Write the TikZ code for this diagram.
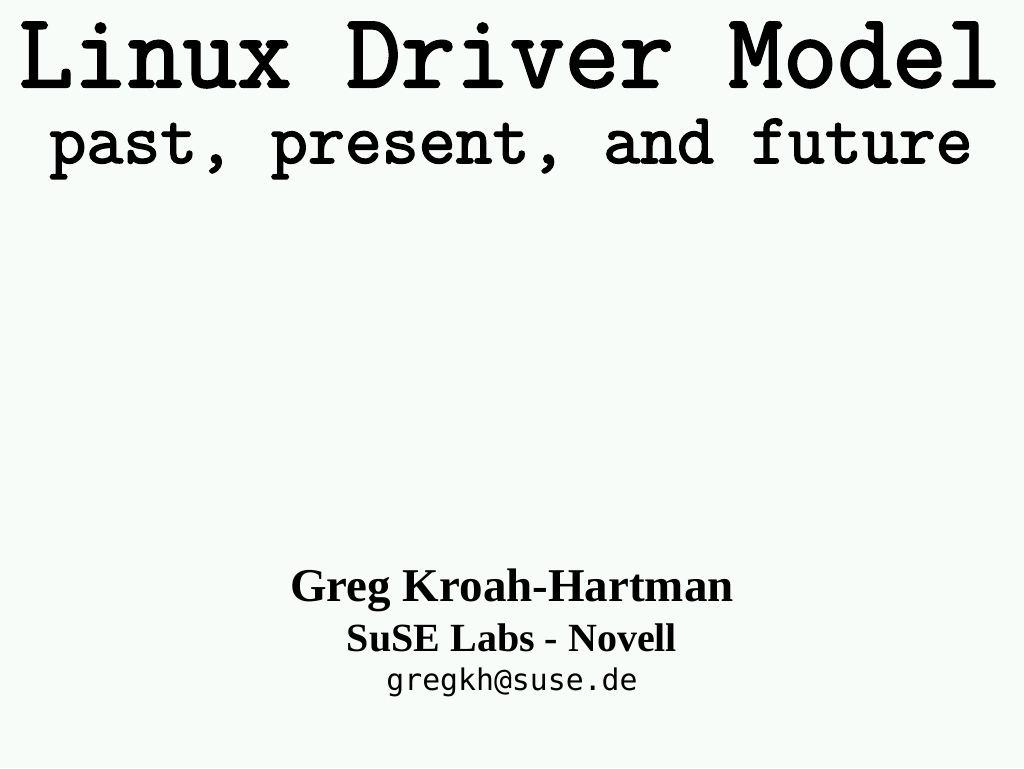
\documentclass[tikz,border=0pt]{standalone}
\usepackage{fontspec}
\setmainfont{Liberation Serif}
\newfontfamily\titlefont[FakeBold=2.2]{Latin Modern Mono}
\newfontfamily\mailfont{DejaVu Sans Mono}
\definecolor{slidebg}{RGB}{248,252,248}
\begin{document}
\begin{tikzpicture}[x=1pt,y=1pt,
  txt/.style={anchor=base,inner sep=0pt,text=black}]
\fill[slidebg] (0,0) rectangle (1024,768);
\useasboundingbox (0,0) rectangle (1024,768);
\node[txt] (title) at (510,768-87) {\titlefont\fontsize{106}{106}\selectfont Linux Driver Model};
\node[txt] (sub) at (511,768-163) {\titlefont\fontsize{71.7}{71.7}\selectfont past, present, and future};
\node[txt] (author) at (512,768-602) {\fontsize{47}{47}\selectfont\bfseries Greg Kroah-Hartman};
\node[txt] (org) at (512,768-651) {\fontsize{40}{40}\selectfont\bfseries SuSE Labs - Novell};
\node[txt] (mail) at (512,768-690) {\mailfont\fontsize{29.8}{29.8}\selectfont gregkh@suse.de};
\end{tikzpicture}
\end{document}
